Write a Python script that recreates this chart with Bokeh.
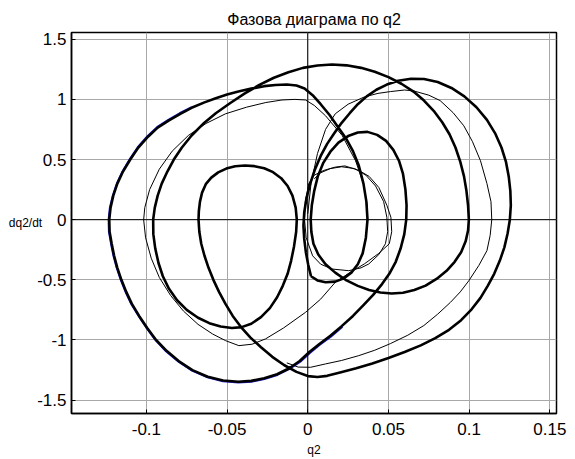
from bokeh.plotting import figure
from bokeh.models import FixedTicker, Span, Range1d
from bokeh.embed import file_html
from bokeh.resources import INLINE

# ---- axis ticks ----
x_ticks = [-0.1, -0.05, 0, 0.05, 0.1, 0.15]
x_tick_labels = ["-0.1", "-0.05", "0", "0.05", "0.1", "0.15"]
y_ticks = [-1.5, -1, -0.5, 0, 0.5, 1, 1.5]
y_tick_labels = ["-1.5", "-1", "-0.5", "0", "0.5", "1", "1.5"]

# ---- main (thick) trajectory: q2 and dq2/dt ----
main_q2 = [
    0.002, 0.006, 0.011, 0.017, 0.022, 0.027, 0.031, 0.034, 0.036, 0.037, 0.0363, 0.0345, 0.0316, 0.028,
    0.0235, 0.019, 0.0135, 0.008, 0.003, -0.002, -0.007, -0.013, -0.02, -0.027, -0.035, -0.043, -0.05,
    -0.057, -0.064, -0.072, -0.079, -0.086, -0.093, -0.099, -0.105, -0.11, -0.1145, -0.118, -0.1205,
    -0.1222, -0.123, -0.1228, -0.1215, -0.12, -0.118, -0.1155, -0.1125, -0.109, -0.1045, -0.0995, -0.094,
    -0.0875, -0.08, -0.0715, -0.062, -0.0525, -0.043, -0.035, -0.027, -0.019, -0.0115, -0.005, 0.001,
    0.007, 0.014, 0.021, 0.028, 0.0345, 0.0405, 0.046, 0.0505, 0.0545, 0.0575, 0.0598, 0.061,
    0.0612, 0.0605, 0.059, 0.0565, 0.053, 0.0485, 0.043, 0.037, 0.031, 0.025, 0.019, 0.014, 0.0095,
    0.0062, 0.004, 0.0025, 0.0018, 0.0022, 0.0035, 0.0065, 0.011, 0.017, 0.024, 0.031, 0.038, 0.045,
    0.052, 0.059, 0.066, 0.073, 0.08, 0.086, 0.091, 0.095, 0.0978, 0.0993, 0.0998, 0.0993, 0.0983,
    0.0968, 0.0945, 0.0915, 0.0878, 0.0833, 0.078, 0.072, 0.0655, 0.058, 0.05, 0.0415, 0.033, 0.024,
    0.015, 0.006, -0.003, -0.012, -0.021, -0.03, -0.039, -0.048, -0.057, -0.065, -0.072, -0.078,
    -0.083, -0.087, -0.0905, -0.093, -0.0948, -0.0958, -0.0957, -0.0945, -0.0925, -0.0898, -0.086,
    -0.081, -0.075, -0.068, -0.061, -0.054, -0.047, -0.041, -0.035, -0.029, -0.0235, -0.019, -0.0155,
    -0.0125, -0.0103, -0.0085, -0.0072, -0.0068, -0.0075, -0.0095, -0.0125, -0.0165, -0.0215, -0.027,
    -0.033, -0.039, -0.045, -0.0505, -0.0555, -0.0598, -0.0632, -0.0655, -0.0668, -0.0675, -0.0677,
    -0.0672, -0.066, -0.064, -0.0615, -0.0585, -0.055, -0.051, -0.0465, -0.0415, -0.0355, -0.029,
    -0.022, -0.0145, -0.007, 0.0, 0.006, 0.012, 0.02, 0.03, 0.04, 0.05, 0.06, 0.07, 0.079, 0.0875,
    0.095, 0.1015, 0.107, 0.1115, 0.1155, 0.119, 0.1218, 0.1238, 0.1252, 0.1258, 0.1255, 0.1245,
    0.1228, 0.12, 0.116, 0.111, 0.1045, 0.097, 0.089, 0.0805, 0.072, 0.064, 0.056, 0.049, 0.0425,
    0.0365, 0.031, 0.026, 0.021, 0.0165, 0.012, 0.008, 0.0045, 0.0015, -0.0008, -0.0022, -0.0027,
    -0.0022, -0.0012, 0.0002, 0.002]
main_dq2 = [
    -0.47, -0.505, -0.52, -0.515, -0.49, -0.44, -0.37, -0.28, -0.15, 0.0, 0.15, 0.3, 0.45, 0.57,
    0.68, 0.765, 0.87, 0.96, 1.035, 1.09, 1.115, 1.124, 1.12, 1.11, 1.09, 1.065, 1.04,
    1.01, 0.975, 0.93, 0.88, 0.825, 0.765, 0.69, 0.6, 0.5, 0.4, 0.3, 0.2,
    0.1, 0.0, -0.1, -0.2, -0.3, -0.4, -0.5, -0.6, -0.7, -0.8, -0.9, -1.0,
    -1.09, -1.175, -1.25, -1.305, -1.337, -1.347, -1.34, -1.318, -1.285, -1.235, -1.175, -1.1,
    -1.035, -0.965, -0.885, -0.8, -0.71, -0.625, -0.535, -0.45, -0.35, -0.24, -0.12, 0.0,
    0.12, 0.25, 0.38, 0.49, 0.58, 0.655, 0.705, 0.73, 0.725, 0.695, 0.64, 0.565, 0.47,
    0.36, 0.24, 0.12, 0.0, -0.1, -0.2, -0.29, -0.37, -0.44, -0.505, -0.55, -0.585, -0.605,
    -0.613, -0.607, -0.585, -0.548, -0.49, -0.425, -0.35, -0.27, -0.18, -0.09, 0.0, 0.12, 0.24,
    0.36, 0.48, 0.6, 0.71, 0.81, 0.905, 0.99, 1.065, 1.13, 1.185, 1.23, 1.262, 1.283,
    1.29, 1.282, 1.262, 1.225, 1.18, 1.12, 1.05, 0.97, 0.885, 0.795, 0.7, 0.6,
    0.5, 0.4, 0.3, 0.2, 0.1, 0.0, -0.12, -0.24, -0.36, -0.47, -0.575,
    -0.67, -0.75, -0.815, -0.86, -0.888, -0.9, -0.893, -0.865, -0.81, -0.735, -0.645, -0.55,
    -0.45, -0.34, -0.22, -0.1, 0.0, 0.1, 0.2, 0.28, 0.345, 0.395, 0.428,
    0.445, 0.45, 0.444, 0.425, 0.393, 0.35, 0.295, 0.225, 0.15, 0.07, 0.0,
    -0.1, -0.2, -0.3, -0.4, -0.5, -0.6, -0.7, -0.8, -0.89, -0.98, -1.06,
    -1.14, -1.21, -1.265, -1.3, -1.308, -1.298, -1.27, -1.235, -1.195, -1.15, -1.1, -1.045, -0.985, -0.915,
    -0.835, -0.745, -0.65, -0.55, -0.45, -0.34, -0.23, -0.115, 0.0, 0.12, 0.24, 0.36,
    0.48, 0.6, 0.72, 0.83, 0.935, 1.025, 1.095, 1.145, 1.17, 1.172, 1.155, 1.123, 1.08,
    1.025, 0.96, 0.885, 0.805, 0.72, 0.63, 0.53, 0.42, 0.3, 0.18, 0.06, -0.05,
    -0.16, -0.27, -0.37, -0.47]

# ---- thin strand on the right ----
thin1_q2 = [0.0, 0.002, 0.006, 0.011, 0.017, 0.025, 0.035, 0.0435, 0.0513, 0.06, 0.0657, 0.075, 0.082,
            0.09, 0.0967, 0.102, 0.107, 0.111, 0.1135, 0.114, 0.113, 0.111, 0.106, 0.0998, 0.0945,
            0.0884, 0.0805, 0.0719, 0.062, 0.0512, 0.0415, 0.0316, 0.021, 0.011, 0.0017, -0.006, -0.013]
thin1_dq2 = [0.05, 0.3, 0.55, 0.75, 0.88, 0.96, 1.02, 1.05, 1.065, 1.078, 1.07, 1.035, 0.99,
             0.89, 0.78, 0.65, 0.49, 0.3, 0.15, 0.0, -0.13, -0.257, -0.38, -0.507, -0.6,
             -0.687, -0.785, -0.88, -0.96, -1.03, -1.085, -1.13, -1.17, -1.199, -1.227, -1.225, -1.19]

# ---- thin strand on the left and the small inner loops ----
thin2_q2 = [0.037, 0.0345, 0.0296, 0.0213, 0.011, 0.004, -0.0014, -0.008, -0.016, -0.026, -0.038, -0.051,
            -0.063, -0.074, -0.084, -0.092, -0.098, -0.101, -0.1017, -0.1005, -0.097, -0.092, -0.085,
            -0.077, -0.068, -0.059, -0.051, -0.0427, -0.0345, -0.0262, -0.015, -0.0014, 0.008, 0.017,
            0.026, 0.035, 0.044, 0.0505, 0.052, 0.0515, 0.049, 0.044, 0.038, 0.0316, 0.023, 0.017, 0.01,
            0.004, 0.0006, -0.0015, -0.002, -0.001, 0.003, 0.008, 0.015, 0.0254, 0.033, 0.0378, 0.044,
            0.0481, 0.0495, 0.049, 0.047, 0.042, 0.036, 0.029, 0.021, 0.014, 0.008, 0.004]
thin2_dq2 = [0.1, 0.3, 0.49, 0.70, 0.864, 0.95, 0.995, 1.0, 0.995, 0.974, 0.935, 0.88,
             0.8, 0.7, 0.57, 0.42, 0.25, 0.1, 0.0, -0.15, -0.32, -0.48, -0.63,
             -0.76, -0.87, -0.95, -1.005, -1.047, -1.035, -0.991, -0.9, -0.77, -0.66, -0.521,
             -0.44, -0.368, -0.28, -0.2, -0.1, 0.02, 0.12, 0.268, 0.36, 0.41, 0.447, 0.437, 0.41,
             0.37, 0.3, 0.15, 0.0, -0.15, -0.3, -0.37, -0.41, -0.424, -0.4, -0.368, -0.29,
             -0.2, -0.1, 0.02, 0.15, 0.28, 0.37, 0.425, 0.44, 0.425, 0.39, 0.34]

# ---- blue strand under the outer left loop ----
blue_q2 = [-0.072, -0.0795, -0.0865, -0.0935, -0.0995, -0.1055, -0.1105, -0.115, -0.1185, -0.121,
           -0.1228, -0.1236, -0.1234, -0.1221, -0.1206, -0.1186, -0.1161, -0.1131, -0.1096, -0.1051,
           -0.1001, -0.0946, -0.088, -0.0804, -0.0718, -0.0622, -0.0526, -0.043, -0.0349, -0.0268,
           -0.0188, -0.0112, -0.0045, 0.0016, 0.0076, 0.0146, 0.0216]
blue_dq2 = [0.937, 0.887, 0.832, 0.771, 0.695, 0.604, 0.503, 0.402, 0.301, 0.2, 0.1, 0.0,
            -0.1, -0.2, -0.3, -0.4, -0.5, -0.6, -0.7, -0.8, -0.9, -1.0, -1.095, -1.181,
            -1.257, -1.313, -1.346, -1.356, -1.349, -1.327, -1.293, -1.243, -1.183, -1.107,
            -1.042, -0.972, -0.892]

FONT = "Liberation Sans"

p = figure(width=575, height=459, output_backend="svg", toolbar_location=None,
           x_range=Range1d(-0.1464, 0.1541), y_range=Range1d(-1.611, 1.556),
           min_border_left=71, min_border_right=19, min_border_top=32, min_border_bottom=46,
           title="Фазова диаграма по q2")
p.background_fill_color = "white"
p.border_fill_color = "white"
p.outline_line_color = "black"
p.outline_line_width = 1.5
p.outline_line_alpha = 1.0

p.title.align = "center"
p.title.text_font = FONT
p.title.text_font_size = "16px"
p.title.text_font_style = "normal"
p.title.text_color = "black"
p.title.standoff = 10

p.xaxis.ticker = FixedTicker(ticks=x_ticks)
p.yaxis.ticker = FixedTicker(ticks=y_ticks)
p.xaxis.major_label_overrides = {t: s for t, s in zip(x_ticks, x_tick_labels)}
p.yaxis.major_label_overrides = {t: s for t, s in zip(y_ticks, y_tick_labels)}

for ax in (p.xaxis, p.yaxis):
    ax.major_label_text_font = FONT
    ax.major_label_text_font_size = "17px"
    ax.major_label_text_color = "black"
    ax.axis_line_color = "black"
    ax.axis_line_width = 1.5
    ax.major_tick_in = 4
    ax.major_tick_out = 0
    ax.minor_tick_in = 0
    ax.minor_tick_out = 0
    ax.major_tick_line_color = "black"
    ax.axis_label_text_font = FONT
    ax.axis_label_text_font_size = "12px"
    ax.axis_label_text_font_style = "normal"
    ax.axis_label_text_color = "black"
p.xaxis.major_label_standoff = 9
p.yaxis.major_label_standoff = 5

p.xaxis.axis_label = "q2"
p.xaxis.axis_label_standoff = 5
p.yaxis.axis_label = "dq2/dt"
p.yaxis.axis_label_orientation = "horizontal"
p.yaxis.axis_label_standoff = -8

p.xgrid.grid_line_color = "#a8a8a8"
p.ygrid.grid_line_color = "#a8a8a8"
p.xgrid.grid_line_width = 1
p.ygrid.grid_line_width = 1

p.add_layout(Span(location=0, dimension="height", line_color="black", line_width=1))
p.add_layout(Span(location=0, dimension="width", line_color="black", line_width=1))

p.line(blue_q2, blue_dq2, line_color="#1f1fd0", line_width=1.4)
p.line(main_q2, main_dq2, line_color="black", line_width=2.6, line_join="round")
p.line(thin1_q2, thin1_dq2, line_color="black", line_width=1.0, line_join="round")
p.line(thin2_q2, thin2_dq2, line_color="black", line_width=1.0, line_join="round")

open("out.html", "w").write(file_html(p, INLINE))
